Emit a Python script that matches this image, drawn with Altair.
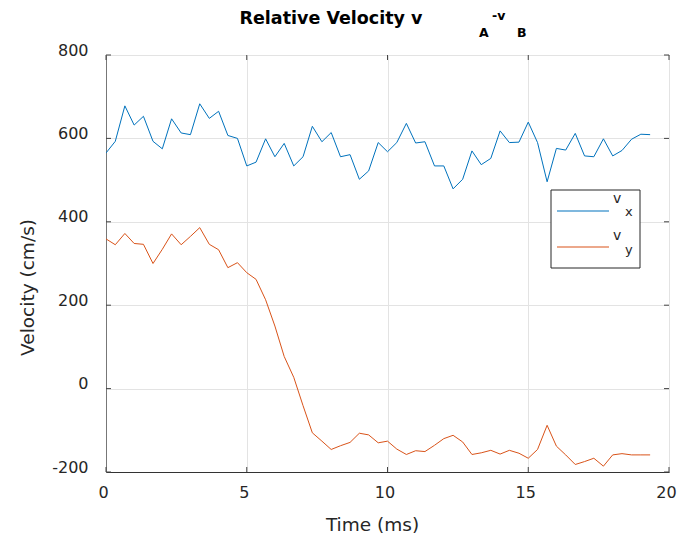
import altair as alt
import pandas as pd

# ---------------- data ----------------
time_ms = [0.00, 0.33, 0.67, 1.00, 1.33, 1.67, 2.00, 2.33, 2.67, 3.00,
           3.33, 3.67, 4.00, 4.33, 4.67, 5.00, 5.33, 5.67, 6.00, 6.33,
           6.67, 7.00, 7.33, 7.67, 8.00, 8.33, 8.67, 9.00, 9.33, 9.67,
           10.00, 10.33, 10.67, 11.00, 11.33, 11.67, 12.00, 12.33, 12.67, 13.00,
           13.33, 13.67, 14.00, 14.33, 14.67, 15.00, 15.33, 15.67, 16.00, 16.33,
           16.67, 17.00, 17.33, 17.67, 18.00, 18.33, 18.67, 19.00, 19.33]
vx = [565, 593, 678, 632, 653, 593, 575, 647, 613, 609,
      683, 648, 665, 607, 600, 534, 543, 599, 556, 588,
      534, 556, 629, 592, 614, 556, 561, 502, 522, 590,
      568, 590, 636, 589, 592, 534, 534, 479, 502, 570,
      537, 552, 618, 590, 591, 639, 590, 496, 576, 572,
      612, 558, 556, 599, 558, 571, 598, 610, 609]
vy = [359, 345, 372, 348, 346, 300, 334, 371, 345, 365,
      386, 346, 333, 290, 302, 278, 262, 213, 150, 77,
      27, -41, -106, -126, -146, -137, -129, -107, -111, -130,
      -126, -145, -158, -149, -151, -136, -120, -112, -128, -158,
      -154, -148, -157, -148, -155, -167, -146, -88, -138, -159,
      -182, -175, -167, -186, -159, -156, -159, -159, -159]

series_names = ["vx", "vy"]
series_colors = ["#0072BD", "#D95319"]
x_ticks = [0, 5, 10, 15, 20]
y_ticks = [-200, 0, 200, 400, 600, 800]
x_title = "Time (ms)"
y_title = "Velocity (cm/s)"
title_main = "Relative Velocity v"
title_sup = "-v"
title_sub_a = "A"
title_sub_b = "B"
legend_main = ["v", "v"]
legend_sub = ["x", "y"]

W, H = 563, 417
FONT = "DejaVu Sans"
TXT = "#262626"

df = pd.DataFrame({
    "t": time_ms * 2,
    "v": vx + vy,
    "series": [series_names[0]] * len(vx) + [series_names[1]] * len(vy),
})

xscale = alt.Scale(domain=[0, 20], nice=False, zero=False)
yscale = alt.Scale(domain=[-200, 800], nice=False, zero=False)
cscale = alt.Scale(domain=series_names, range=series_colors)

hyphen_labels = "datum.value < 0 ? '-' + format(-datum.value, 'd') : format(datum.value, 'd')"

lines = alt.Chart(df).mark_line(strokeWidth=1, clip=True).encode(
    x=alt.X("t:Q", scale=xscale, title=x_title, axis=alt.Axis(
        values=x_ticks, grid=True, ticks=False,
        labelPadding=12, labelOffset=-3, labelFlush=False,
        titleX=266, titleY=52, titleBaseline="middle", titleAlign="center",
        domainColor="#333333")),
    y=alt.Y("v:Q", scale=yscale, title=y_title, axis=alt.Axis(
        values=y_ticks, grid=True, ticks=False, labelExpr=hyphen_labels,
        labelPadding=18, labelBaseline="alphabetic", labelFlush=False,
        titleX=-79, titleY=232, titleBaseline="middle", titleAlign="center",
        domainColor="#777777")),
    color=alt.Color("series:N", scale=cscale, legend=None),
)

# inward MATLAB-style ticks (same field names so the axes merge with the main layer)
xt = pd.DataFrame({"t": x_ticks})
yt = pd.DataFrame({"v": y_ticks})
tick_color = "#444444"
tick_bottom = alt.Chart(xt).mark_rule(color=tick_color, strokeWidth=1).encode(
    x=alt.X("t:Q", scale=xscale, title=x_title), y=alt.value(H), y2=alt.value(H - 5))
tick_top = alt.Chart(xt).mark_rule(color=tick_color, strokeWidth=1).encode(
    x=alt.X("t:Q", scale=xscale, title=x_title), y=alt.value(0), y2=alt.value(5))
tick_left = alt.Chart(yt).mark_rule(color=tick_color, strokeWidth=1).encode(
    y=alt.Y("v:Q", scale=yscale, title=y_title), x=alt.value(0), x2=alt.value(5))
tick_right = alt.Chart(yt).mark_rule(color=tick_color, strokeWidth=1).encode(
    y=alt.Y("v:Q", scale=yscale, title=y_title), x=alt.value(W), x2=alt.value(W - 5))

# custom legend
leg_df = pd.DataFrame({"series": series_names, "main": legend_main, "sub": legend_sub})
leg_box = alt.Chart(pd.DataFrame({"k": [0]})).mark_rect(
    fill="white", stroke="#262626", strokeWidth=1).encode(
    x=alt.value(445), x2=alt.value(534), y=alt.value(135), y2=alt.value(213))
leg_line_x = alt.Chart(leg_df.iloc[[0]]).mark_rule(strokeWidth=1.2).encode(
    x=alt.value(451), x2=alt.value(503), y=alt.value(156),
    color=alt.Color("series:N", scale=cscale, legend=None))
leg_line_y = alt.Chart(leg_df.iloc[[1]]).mark_rule(strokeWidth=1.2).encode(
    x=alt.value(451), x2=alt.value(503), y=alt.value(192),
    color=alt.Color("series:N", scale=cscale, legend=None))
leg_v1 = alt.Chart(leg_df.iloc[[0]]).mark_text(font=FONT, fontSize=14, color=TXT, align="left", baseline="alphabetic").encode(
    text="main:N", x=alt.value(507), y=alt.value(148))
leg_s1 = alt.Chart(leg_df.iloc[[0]]).mark_text(font=FONT, fontSize=13, color=TXT, align="left", baseline="alphabetic").encode(
    text="sub:N", x=alt.value(519), y=alt.value(161))
leg_v2 = alt.Chart(leg_df.iloc[[1]]).mark_text(font=FONT, fontSize=14, color=TXT, align="left", baseline="alphabetic").encode(
    text="main:N", x=alt.value(507), y=alt.value(185))
leg_s2 = alt.Chart(leg_df.iloc[[1]]).mark_text(font=FONT, fontSize=13, color=TXT, align="left", baseline="alphabetic").encode(
    text="sub:N", x=alt.value(519), y=alt.value(199))

# title pieces
title_df = pd.DataFrame({"a": [title_main], "b": [title_sup], "c": [title_sub_a], "d": [title_sub_b]})
t_main = alt.Chart(title_df).mark_text(font=FONT, fontSize=17.5, fontWeight="bold", color="black", align="center", baseline="alphabetic").encode(
    text="a:N", x=alt.value(225), y=alt.value(-31))
t_sup = alt.Chart(title_df).mark_text(font=FONT, fontSize=12.5, fontWeight="bold", color="black", align="left", baseline="alphabetic").encode(
    text="b:N", x=alt.value(386), y=alt.value(-35))
t_a = alt.Chart(title_df).mark_text(font=FONT, fontSize=12.5, fontWeight="bold", color="black", align="left", baseline="alphabetic").encode(
    text="c:N", x=alt.value(373), y=alt.value(-18))
t_b = alt.Chart(title_df).mark_text(font=FONT, fontSize=12.5, fontWeight="bold", color="black", align="left", baseline="alphabetic").encode(
    text="d:N", x=alt.value(411), y=alt.value(-18))

chart = alt.layer(
    lines, tick_bottom, tick_top, tick_left, tick_right,
    leg_box, leg_line_x, leg_line_y, leg_v1, leg_s1, leg_v2, leg_s2,
    t_main, t_sup, t_a, t_b,
).properties(
    width=W, height=H,
    autosize=alt.AutoSizeParams(type="none"),
    padding={"left": 106, "top": 55, "right": 10, "bottom": 67},
    background="white",
).configure_view(
    stroke="#666666", strokeWidth=1,
).configure_axis(
    labelFont=FONT, labelFontSize=16, labelColor=TXT,
    titleFont=FONT, titleFontSize=18.5, titleFontWeight="normal", titleColor=TXT,
    gridColor="#e3e3e3", gridWidth=1, domainWidth=1,
)

chart.save("out.html", embed_options={"renderer": "svg", "actions": False})
